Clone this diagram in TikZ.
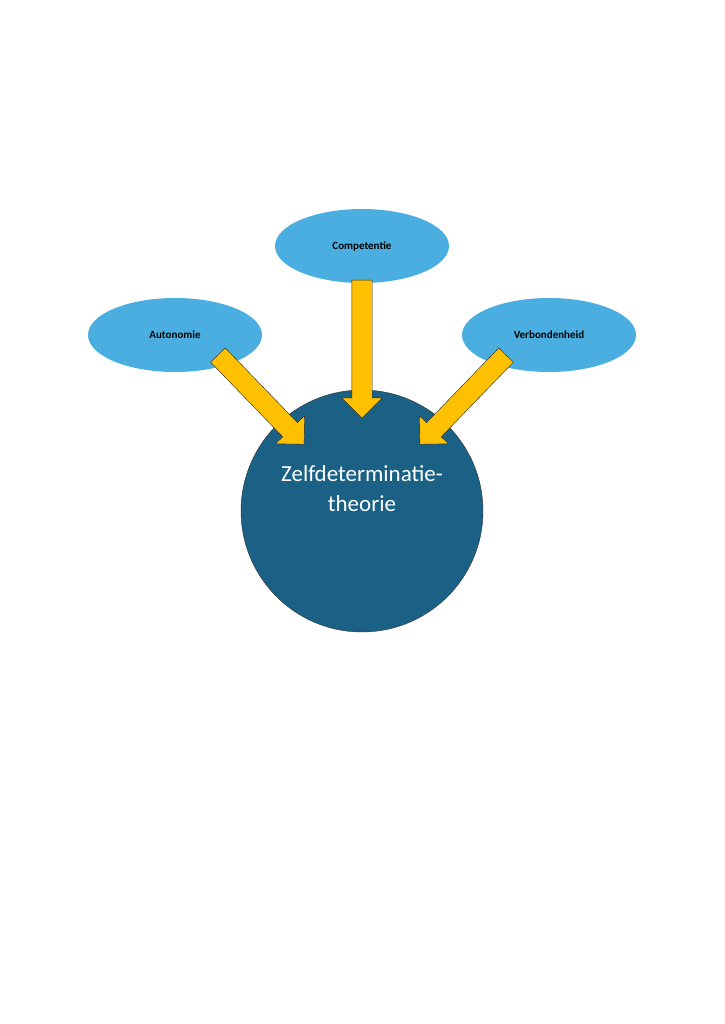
\documentclass[tikz,border=0pt]{standalone}
\usepackage{fontspec}
\setmainfont{Carlito}
\usetikzlibrary{shapes.arrows,positioning}
\definecolor{needblue}{HTML}{4AAFE0}
\definecolor{coreblue}{HTML}{1A6185}
\definecolor{arrowyellow}{HTML}{FFC000}
\tikzset{
  need/.style={ellipse, fill=needblue, minimum width=174pt, minimum height=74pt, inner sep=0pt, font=\fontsize{11}{13}\selectfont\bfseries},
  core/.style={circle, draw=black!80, fill=coreblue, minimum size=242pt, inner sep=0pt, text=white, align=center, font=\fontsize{23}{30}\selectfont},
  blockarrow/.style={single arrow, draw=black!85, fill=arrowyellow, inner sep=0pt, minimum width=40pt, single arrow head extend=10pt, single arrow head indent=0pt, text width=0pt, text height=10pt, text depth=10pt},
}
\usetikzlibrary{shapes.geometric}
\begin{document}
\begin{tikzpicture}[x=1pt,y=-1pt]
\useasboundingbox (0,0) rectangle (724,1024);
\node[core] (zdt) at (362,511) {Zelfdeterminatie-\\theorie\\[14pt]};
\node[need] (comp) at (362,246) {Competentie};
\node[need] (auto) at (175,335) {Autonomie};
\node[need] (verb) at (549,335) {Verbondenheid};

\node[blockarrow, minimum height=138pt, rotate=-90] (acomp) at (362,344) {};
\node[blockarrow, minimum height=124pt, rotate=-46] (aauto) at (257.5,396) {};
\node[blockarrow, minimum height=124pt, rotate=-134] (averb) at (466.5,396) {};
\end{tikzpicture}
\end{document}
